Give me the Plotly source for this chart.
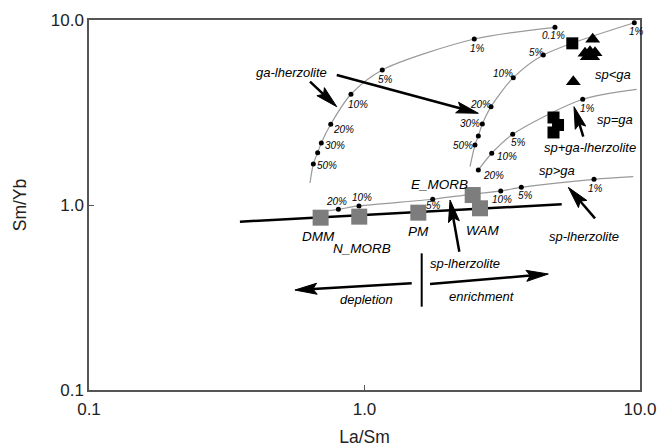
import numpy as np
import plotly.graph_objects as go

# ---------------- data (La/Sm, Sm/Yb) ----------------
# melting curves: label None = no dot, "" = dot without label
curveA_x = [0.634, 0.652, 0.676, 0.697, 0.754, 0.893, 1.160, 2.503, 4.913]
curveA_y = [1.315, 1.666, 1.918, 2.164, 2.731, 3.967, 5.367, 7.89, 9.13]
curveA_lab = [None, "50%", "", "30%", "20%", "10%", "5%", "1%", "0.1%"]

curveB_x = [2.415, 2.518, 2.589, 2.677, 2.879, 3.468, 4.457, 9.535]
curveB_y = [1.611, 2.110, 2.360, 2.741, 3.400, 4.877, 6.469, 9.670]
curveB_lab = [None, "50%", "", "30%", "20%", "10%", "5%", "1%"]

curveC_x = [2.589, 2.896, 3.451, 6.194, 9.728]
curveC_y = [1.546, 1.904, 2.411, 3.728, 4.222]
curveC_lab = ["20%", "10%", "5%", "1%", None]

curveD_x = [0.739, 0.804, 0.955, 1.768, 2.317, 3.122, 3.708, 6.808, 9.456]
curveD_y = [0.9316, 0.948, 0.988, 1.074, 1.132, 1.191, 1.246, 1.377, 1.422]
curveD_lab = [None, "20%", "10%", "5%", None, "10%", "5%", "1%", None]

# reservoirs (grey squares)
res_names = ["DMM", "N_MORB", "PM", "E_MORB", "WAM"]
res_x = [0.693, 0.957, 1.568, 2.470, 2.626]
res_y = [0.854, 0.865, 0.909, 1.132, 0.960]
res_lab_x = [0.680, 0.977, 1.568, 1.869, 2.699]
res_lab_y = [0.674, 0.5834, 0.717, 1.283, 0.724]

# mantle array line
trend_x = [0.353, 5.197]
trend_y = [0.812, 1.009]

# samples
sq_x = [5.679, 4.853, 4.853, 5.041]
sq_y = [7.48, 2.972, 2.466, 2.707]
tri_x = [6.734, 6.316, 6.585, 6.866, 6.437, 6.734, 5.727]
tri_y = [7.865, 6.607, 6.740, 6.656, 6.333, 6.333, 4.640]

# arrows: tail -> tip
arr_tail_x = [0.634, 0.793, 6.225, 2.209, 6.866, 1.484, 1.729]
arr_tail_y = [4.64, 5.043, 2.34, 0.559, 0.847, 0.3775, 0.374]
arr_tip_x = [0.793, 2.589, 5.760, 2.044, 5.492, 0.559, 4.647]
arr_tip_y = [3.40, 3.132, 3.40, 1.064, 1.246, 0.347, 0.4237]

divider_x = [1.613, 1.613]
divider_y = [0.548, 0.282]

# text labels
txt = ["ga-lherzolite", "sp&lt;ga", "sp=ga", "sp+ga-lherzolite", "sp&gt;ga",
       "sp-lherzolite", "depletion", "enrichment", "sp-lherzolite"]
txt_x = [0.5435, 7.96, 8.11, 6.585, 4.985, 2.317, 1.019, 2.664, 6.26]
txt_y = [5.19, 5.09, 2.905, 2.05, 1.546, 0.484, 0.3066, 0.3195, 0.674]

# ---------------- style ----------------
W, H = 666, 448
ML, MR, MT, MB = 89, 26, 20, 58
KX = (W - ML - MR) / 2.0   # px per decade
KY = (H - MT - MB) / 2.0

pct_off = {
    "A": [None, (14, 2), None, (14, 3), (13, 5), (7, 10), (3, 9), (3, 9), (-1, 8)],
    "B": [None, (-12, 0), None, (-12, 0), (-11, -2), (-10, -4), (-7, -3), (2, 9)],
    "C": [(15, 5), (15, 3), (6, 8), (5, 9), None],
    "D": [None, (-2, -8), (3, -8), (1, 6), None, (1, 9), (4, 8), (1, 9), None],
}
FONT = "Liberation Sans, Arial, Helvetica, sans-serif"
L = np.log10

fig = go.Figure()
annotations = []

curves = {"A": (curveA_x, curveA_y, curveA_lab), "B": (curveB_x, curveB_y, curveB_lab),
          "C": (curveC_x, curveC_y, curveC_lab), "D": (curveD_x, curveD_y, curveD_lab)}
for key, (cx, cy, cl) in curves.items():
    fig.add_trace(go.Scatter(x=cx, y=cy, mode="lines",
                             line=dict(color="#9a9a9a", width=1.2, shape="spline", smoothing=0.8),
                             hoverinfo="skip", showlegend=False))
    dx = [x for x, l in zip(cx, cl) if l is not None]
    dy = [y for y, l in zip(cy, cl) if l is not None]
    fig.add_trace(go.Scatter(x=dx, y=dy, mode="markers",
                             marker=dict(color="black", size=5),
                             hoverinfo="skip", showlegend=False))
    for x, y, l, off in zip(cx, cy, cl, pct_off[key]):
        if l:
            annotations.append(dict(x=L(x), y=L(y), xref="x", yref="y", text=l,
                                    showarrow=False, xshift=off[0], yshift=-off[1],
                                    font=dict(family=FONT, size=10, color="black", style="italic")))

# trend line
fig.add_trace(go.Scatter(x=trend_x, y=trend_y, mode="lines",
                         line=dict(color="black", width=2.5),
                         hoverinfo="skip", showlegend=False))
# reservoirs
fig.add_trace(go.Scatter(x=res_x, y=res_y, mode="markers",
                         marker=dict(symbol="square", color="#7d7d7d", size=16,
                                     line=dict(width=0)),
                         hoverinfo="skip", showlegend=False))
for n, x, y in zip(res_names, res_lab_x, res_lab_y):
    annotations.append(dict(x=L(x), y=L(y), xref="x", yref="y", text=n, showarrow=False,
                            font=dict(family=FONT, size=13.5, color="black", style="italic")))
# samples
fig.add_trace(go.Scatter(x=sq_x, y=sq_y, mode="markers",
                         marker=dict(symbol="square", color="black", size=12, line=dict(width=0)),
                         hoverinfo="skip", showlegend=False))
fig.add_trace(go.Scatter(x=tri_x, y=tri_y, mode="markers",
                         marker=dict(symbol="triangle-up", color="black", size=13, line=dict(width=0)),
                         hoverinfo="skip", showlegend=False))
# divider
fig.add_trace(go.Scatter(x=divider_x, y=divider_y, mode="lines",
                         line=dict(color="black", width=2),
                         hoverinfo="skip", showlegend=False))


# arrows: shaft + filled narrow head, built in screen-proportional log space
def to_px(x, y):
    return np.array([L(x) * KX, L(y) * KY])


def from_px(p):
    return 10 ** (p[0] / KX), 10 ** (p[1] / KY)


HEAD_LEN, HEAD_HW, NOTCH = 22.0, 5.5, 0.82
for tx, ty, hx, hy in zip(arr_tail_x, arr_tail_y, arr_tip_x, arr_tip_y):
    p0, p1 = to_px(tx, ty), to_px(hx, hy)
    d = (p1 - p0) / np.linalg.norm(p1 - p0)
    n = np.array([-d[1], d[0]])
    base = p1 - d * HEAD_LEN
    pts = [p1, base + n * HEAD_HW, p1 - d * HEAD_LEN * NOTCH, base - n * HEAD_HW, p1]
    hxs, hys = zip(*[from_px(p) for p in pts])
    sx, sy = zip(*[from_px(p) for p in [p0, p1 - d * HEAD_LEN * NOTCH]])
    fig.add_trace(go.Scatter(x=list(sx), y=list(sy), mode="lines",
                             line=dict(color="black", width=2.5),
                             hoverinfo="skip", showlegend=False))
    fig.add_trace(go.Scatter(x=list(hxs), y=list(hys), mode="lines", fill="toself",
                             fillcolor="black", line=dict(color="black", width=1),
                             hoverinfo="skip", showlegend=False))

# text labels
for t, x, y in zip(txt, txt_x, txt_y):
    annotations.append(dict(x=L(x), y=L(y), xref="x", yref="y", text=t, showarrow=False,
                            font=dict(family=FONT, size=13, color="black", style="italic")))

axis_common = dict(type="log", range=[-1, 1], tickvals=[0.1, 1, 10],
                   ticktext=["0.1", "1.0", "10.0"], ticks="inside", ticklen=5,
                   tickcolor="#555", showgrid=False, zeroline=False, showline=True,
                   mirror=True, linecolor="#555", linewidth=1.5, automargin=False,
                   tickfont=dict(family=FONT, size=17, color="#222"))
fig.update_layout(
    width=W, height=H,
    margin=dict(l=ML, r=MR, t=MT, b=MB, autoexpand=False),
    paper_bgcolor="white", plot_bgcolor="white",
    xaxis=dict(**axis_common, ticklabelstandoff=3,
               title=dict(text="La/Sm", standoff=13,
                          font=dict(family=FONT, size=17.5, color="#222"))),
    yaxis=dict(**axis_common, ticklabelstandoff=0,
               title=dict(text="Sm/Yb", standoff=20,
                          font=dict(family=FONT, size=17.5, color="#222"))),
    annotations=annotations,
    showlegend=False,
)
fig.write_html("out.html")
